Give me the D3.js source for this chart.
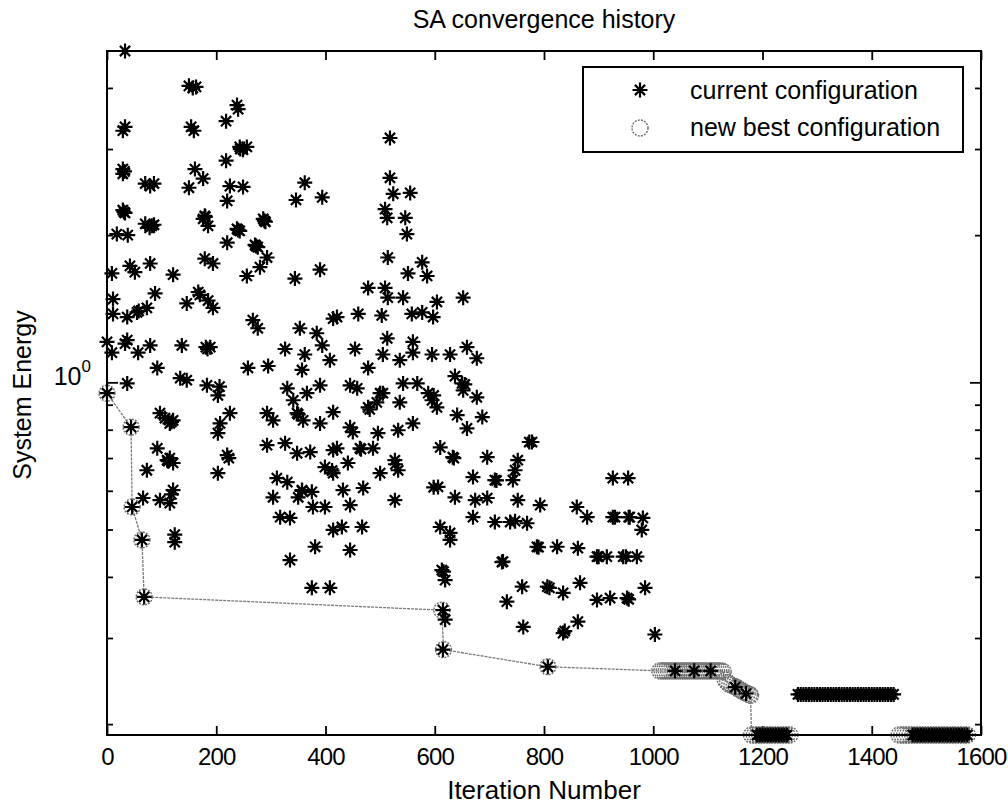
<!DOCTYPE html>
<html>
<head>
<meta charset="utf-8">
<script src="https://cdn.jsdelivr.net/npm/d3@7"></script>
<style>
  body { margin: 0; background: #fff; }
  text { font-family: "Liberation Sans", Arial, Helvetica, sans-serif; }
</style>
</head>
<body>
<div id="chart"></div>
<script>

// current configuration: [iteration, energy]
const currentPoints = [
    [33, 4.76], [150, 4.04], [157, 4.00], [163, 4.02], [238, 3.69], [240, 3.62], [218, 3.42], [33, 3.33], [29, 3.27],
    [154, 3.33], [159, 3.27], [243, 3.03], [256, 3.03], [249, 2.99], [218, 2.84], [29, 2.73], [32, 2.70], [29, 2.67],
    [161, 2.73], [176, 2.61], [70, 2.55], [86, 2.55], [79, 2.52], [225, 2.52], [249, 2.51], [220, 2.35], [362, 2.56],
    [346, 2.36], [394, 2.39], [29, 2.25], [33, 2.22], [176, 2.16], [179, 2.19], [185, 2.09], [286, 2.16], [290, 2.13],
    [70, 2.11], [86, 2.10], [78, 2.07], [238, 2.06], [243, 2.04], [18, 2.01], [38, 2.00], [220, 1.93], [271, 1.91],
    [276, 1.89], [179, 1.79], [194, 1.75], [42, 1.73], [79, 1.75], [293, 1.80], [280, 1.72], [390, 1.70],
    [9, 1.67], [51, 1.68], [121, 1.66], [256, 1.65], [344, 1.63], [11, 1.48], [88, 1.52], [167, 1.53], [185, 1.47],
    [194, 1.42], [146, 1.45], [11, 1.38], [55, 1.39], [73, 1.42], [37, 1.36], [267, 1.34], [276, 1.29], [353, 1.29],
    [384, 1.26], [414, 1.35], [0, 1.21], [37, 1.22], [79, 1.19], [9, 1.15], [57, 1.15], [137, 1.19], [181, 1.18],
    [189, 1.18], [326, 1.17], [362, 1.14], [394, 1.19], [408, 1.11], [357, 1.06], [258, 1.07], [295, 1.08], [92, 1.07],
    [134, 1.02], [146, 1.01], [183, 0.986], [203, 0.94], [37, 0.995], [330, 0.972], [341, 0.919], [366, 0.95], [390, 0.986],
    [97, 0.865], [106, 0.845], [115, 0.824], [121, 0.836], [207, 0.824], [225, 0.865], [203, 0.787], [293, 0.865],
    [304, 0.836], [348, 0.865], [359, 0.836], [390, 0.824], [414, 0.869], [92, 0.733], [110, 0.693], [121, 0.684],
    [115, 0.70], [73, 0.661], [220, 0.71], [203, 0.652], [293, 0.744], [326, 0.751], [348, 0.716], [372, 0.72],
    [414, 0.727], [399, 0.671], [414, 0.652], [311, 0.637], [330, 0.625], [357, 0.602], [375, 0.597], [304, 0.582],
    [350, 0.582], [377, 0.556], [399, 0.556], [121, 0.602], [115, 0.566], [97, 0.574], [66, 0.58], [317, 0.53],
    [335, 0.528], [414, 0.499], [124, 0.488],
    [0, 0.95], [44, 0.81], [46, 0.556], [64, 0.476], [68, 0.364],
    [124, 0.471], [335, 0.433], [381, 0.461], [375, 0.38], [408, 0.38],
    [518, 3.16], [518, 2.62], [524, 2.43], [555, 2.44], [509, 2.26], [513, 2.17], [546, 2.17], [549, 2.01], [514, 1.80],
    [577, 1.76],
    [551, 1.67], [586, 1.65], [478, 1.56], [509, 1.56], [514, 1.49], [542, 1.49], [604, 1.46], [652, 1.49], [421, 1.36],
    [460, 1.38], [503, 1.37], [558, 1.38], [577, 1.39], [597, 1.36], [513, 1.23], [454, 1.17], [505, 1.14], [478, 1.07],
    [536, 1.11], [560, 1.21], [560, 1.15], [595, 1.14], [628, 1.14], [659, 1.18], [677, 1.12], [445, 0.986], [458, 0.972],
    [500, 0.95], [494, 0.91], [478, 0.889], [536, 0.91], [542, 0.995], [568, 0.995], [588, 0.95], [595, 0.919],
    [604, 0.889], [637, 1.03], [650, 0.995], [652, 0.963], [677, 0.932], [641, 0.857], [687, 0.849], [659, 0.805],
    [445, 0.809], [450, 0.791], [496, 0.787], [533, 0.798], [560, 0.824], [421, 0.733], [463, 0.733], [487, 0.733],
    [527, 0.693], [533, 0.661], [441, 0.684], [500, 0.652], [432, 0.602], [469, 0.608], [445, 0.561], [527, 0.574],
    [430, 0.506], [467, 0.506], [610, 0.736], [633, 0.703], [696, 0.703], [752, 0.693], [773, 0.755], [778, 0.755],
    [670, 0.64], [710, 0.631], [743, 0.631], [747, 0.661], [606, 0.611], [637, 0.582], [674, 0.574], [696, 0.58],
    [752, 0.574], [793, 0.561], [670, 0.53], [710, 0.518], [738, 0.518], [769, 0.515], [610, 0.506], [628, 0.492],
    [860, 0.556], [879, 0.53], [926, 0.53], [957, 0.53], [981, 0.528], [979, 0.499], [926, 0.637], [954, 0.637],
    [445, 0.454], [628, 0.476], [613, 0.413], [619, 0.394], [615, 0.342], [619, 0.327], [615, 0.284], [723, 0.429],
    [787, 0.461], [824, 0.461], [862, 0.458], [897, 0.44], [915, 0.44], [945, 0.44], [970, 0.44], [760, 0.382],
    [732, 0.356], [806, 0.382], [835, 0.371], [866, 0.389], [762, 0.316], [835, 0.307], [862, 0.324], [897, 0.359],
    [921, 0.362], [952, 0.362], [985, 0.38], [1003, 0.305], [807, 0.262],
    [1040, 0.257], [1075, 0.257], [1105, 0.257], [1150, 0.238], [1170, 0.231],
    // second hits that make the bold clusters
    [244, 3.00], [150, 2.50], [31, 2.23], [180, 2.18], [288, 2.14], [82, 2.09], [240, 2.05], [273, 1.90],
    [170, 1.51], [58, 1.40], [33, 1.20], [184, 1.17], [118, 0.83], [206, 0.98], [112, 0.69], [223, 0.70],
    [118, 0.59], [350, 0.86], [412, 0.66], [357, 0.60], [481, 0.88], [505, 0.95], [598, 0.94], [655, 0.99],
    [465, 0.73], [528, 0.68], [635, 0.70], [713, 0.63], [747, 0.52], [930, 0.53], [955, 0.53], [598, 0.61],
    [616, 0.41], [790, 0.46], [900, 0.44], [950, 0.44], [725, 0.43], [810, 0.38], [955, 0.36], [838, 0.31]
];

// long runs of current configuration at the end of the cooling
const runLowA = [
    [1190, 0.19], [1195, 0.19], [1200, 0.19], [1205, 0.19], [1210, 0.19], [1215, 0.19],
    [1220, 0.19], [1225, 0.19], [1230, 0.19], [1235, 0.19], [1240, 0.19], [1245, 0.19]
];
const runMid = [
    [1265, 0.23], [1270, 0.23], [1275, 0.23], [1280, 0.23], [1285, 0.23], [1290, 0.23], [1295, 0.23], [1300, 0.23],
    [1305, 0.23], [1310, 0.23], [1315, 0.23], [1320, 0.23], [1325, 0.23], [1330, 0.23], [1335, 0.23], [1340, 0.23],
    [1345, 0.23], [1350, 0.23], [1355, 0.23], [1360, 0.23], [1365, 0.23], [1370, 0.23], [1375, 0.23], [1380, 0.23],
    [1385, 0.23], [1390, 0.23], [1395, 0.23], [1400, 0.23], [1405, 0.23], [1410, 0.23], [1415, 0.23], [1420, 0.23],
    [1425, 0.23], [1430, 0.23], [1435, 0.23], [1440, 0.23]
];
const runLowB = [
    [1475, 0.19], [1480, 0.19], [1485, 0.19], [1490, 0.19], [1495, 0.19], [1500, 0.19], [1505, 0.19],
    [1510, 0.19], [1515, 0.19], [1520, 0.19], [1525, 0.19], [1530, 0.19], [1535, 0.19], [1540, 0.19],
    [1545, 0.19], [1550, 0.19], [1555, 0.19], [1560, 0.19], [1565, 0.19], [1570, 0.19], [1575, 0.19]
];

// new best configuration: [iteration, energy]
const bestPoints = [
    [0, 0.95], [44, 0.81], [46, 0.556], [64, 0.476], [68, 0.364], [613, 0.342], [616, 0.284], [807, 0.262],
    [1012, 0.257], [1016, 0.257], [1020, 0.257], [1024, 0.257], [1028, 0.257], [1032, 0.257], [1036, 0.257],
    [1040, 0.257], [1044, 0.257], [1048, 0.257], [1052, 0.257], [1056, 0.257], [1060, 0.257], [1064, 0.257],
    [1068, 0.257], [1072, 0.257], [1076, 0.257], [1080, 0.257], [1084, 0.257], [1088, 0.257], [1092, 0.257],
    [1096, 0.257], [1100, 0.257], [1104, 0.257], [1108, 0.257], [1112, 0.257], [1116, 0.257], [1120, 0.257],
    [1124, 0.257], [1128, 0.256], [1132, 0.246], [1136, 0.243], [1140, 0.241], [1144, 0.240], [1148, 0.239],
    [1152, 0.238], [1156, 0.236], [1160, 0.235], [1164, 0.233], [1168, 0.232], [1172, 0.231], [1176, 0.230],
    [1178, 0.229],
    [1180, 0.19], [1185, 0.19], [1190, 0.19], [1195, 0.19], [1200, 0.19], [1205, 0.19], [1210, 0.19], [1215, 0.19],
    [1220, 0.19], [1225, 0.19], [1230, 0.19], [1235, 0.19], [1240, 0.19], [1245, 0.19], [1250, 0.19],
    [1450, 0.19], [1455, 0.19], [1460, 0.19], [1465, 0.19], [1470, 0.19], [1475, 0.19], [1480, 0.19], [1485, 0.19],
    [1490, 0.19], [1495, 0.19], [1500, 0.19], [1505, 0.19], [1510, 0.19], [1515, 0.19], [1520, 0.19], [1525, 0.19],
    [1530, 0.19], [1535, 0.19], [1540, 0.19], [1545, 0.19], [1550, 0.19], [1555, 0.19], [1560, 0.19], [1565, 0.19],
    [1570, 0.19], [1575, 0.19]
];

const xTicks = [0, 200, 400, 600, 800, 1000, 1200, 1400, 1600];
const yMinorTicks = [0.2, 0.3, 0.4, 0.5, 0.6, 0.7, 0.8, 0.9, 2, 3, 4];
const yMajorTicks = [1];
const legendLabels = ["current configuration", "new best configuration"];

const width = 1008;
const height = 805;
const plot = { left: 107, right: 981, top: 51, bottom: 735 };
const fontSize = 25;

const svg = d3.select("#chart")
    .append("svg")
    .attr("width", width)
    .attr("height", height)
    .style("background-color", "white");

const xScale = d3.scaleLinear()
    .domain([0, 1600])
    .range([plot.left, plot.right]);

const yScale = d3.scaleLog()
    .domain([0.19, 4.76])
    .range([plot.bottom, plot.top]);

// matlab style '*' marker: plus + cross
const starPath = (s) => {
    const p = d3.path();
    const d = s * 0.68;
    p.moveTo(-s, 0); p.lineTo(s, 0);
    p.moveTo(0, -s); p.lineTo(0, s);
    p.moveTo(-d, -d); p.lineTo(d, d);
    p.moveTo(-d, d); p.lineTo(d, -d);
    return p.toString();
};
const starD = starPath(7.5);

// ticks, all pointing inwards
const styleAxis = g => {
    g.select(".domain").remove();
    g.selectAll("line").attr("stroke", "black").attr("stroke-width", 1.8);
    g.selectAll("text")
        .attr("fill", "black")
        .style("font-size", "24px")
        .style("letter-spacing", "-0.8px");
};

svg.append("g")
    .attr("transform", `translate(0, ${plot.bottom})`)
    .call(d3.axisBottom(xScale).tickValues(xTicks).tickFormat(d3.format("d"))
        .tickSizeInner(-9).tickSizeOuter(0).tickPadding(13))
    .call(styleAxis);

svg.append("g")
    .attr("transform", `translate(0, ${plot.top})`)
    .call(d3.axisTop(xScale).tickValues(xTicks).tickSizeInner(-9).tickSizeOuter(0).tickFormat(""))
    .call(styleAxis);

svg.append("g")
    .attr("transform", `translate(${plot.left}, 0)`)
    .call(d3.axisLeft(yScale).tickValues(yMinorTicks).tickSizeInner(-6).tickSizeOuter(0).tickFormat(""))
    .call(styleAxis);
svg.append("g")
    .attr("transform", `translate(${plot.left}, 0)`)
    .call(d3.axisLeft(yScale).tickValues(yMajorTicks).tickSizeInner(-11).tickSizeOuter(0).tickFormat(""))
    .call(styleAxis);
svg.append("g")
    .attr("transform", `translate(${plot.right}, 0)`)
    .call(d3.axisRight(yScale).tickValues(yMinorTicks).tickSizeInner(-6).tickSizeOuter(0).tickFormat(""))
    .call(styleAxis);
svg.append("g")
    .attr("transform", `translate(${plot.right}, 0)`)
    .call(d3.axisRight(yScale).tickValues(yMajorTicks).tickSizeInner(-11).tickSizeOuter(0).tickFormat(""))
    .call(styleAxis);

// 10^0 label
yMajorTicks.forEach(v => {
    const t = svg.append("text")
        .attr("x", plot.left - 16)
        .attr("y", yScale(v) + 3)
        .attr("text-anchor", "end")
        .style("font-size", fontSize + "px")
        .text("10");
    t.append("tspan")
        .attr("dy", -13)
        .style("font-size", "17px")
        .text(Math.round(Math.log10(v)));
});

// best configuration line + circles
const line = d3.line()
    .x(d => xScale(d[0]))
    .y(d => yScale(d[1]));

svg.append("path")
    .datum(bestPoints)
    .attr("d", line)
    .attr("fill", "none")
    .attr("stroke", "#7a7a7a")
    .attr("stroke-width", 1.3)
    .attr("stroke-dasharray", "3 1");

svg.selectAll(".best")
    .data(bestPoints)
    .enter()
    .append("circle")
    .attr("class", "best")
    .attr("cx", d => xScale(d[0]))
    .attr("cy", d => yScale(d[1]))
    .attr("r", 8)
    .attr("fill", "none")
    .attr("stroke", "#6f6f6f")
    .attr("stroke-width", 1.4)
    .attr("stroke-dasharray", "2 1.2");

// current configuration stars
const allCurrent = currentPoints.concat(runLowA, runMid, runLowB);
svg.selectAll(".cur")
    .data(allCurrent)
    .enter()
    .append("path")
    .attr("class", "cur")
    .attr("d", starD)
    .attr("transform", d => `translate(${xScale(d[0])}, ${yScale(d[1])})`)
    .attr("fill", "none")
    .attr("stroke", "black")
    .attr("stroke-width", 2.2);

// frame
svg.append("rect")
    .attr("x", plot.left)
    .attr("y", plot.top)
    .attr("width", plot.right - plot.left)
    .attr("height", plot.bottom - plot.top)
    .attr("fill", "none")
    .attr("stroke", "black")
    .attr("stroke-width", 2);

// title and labels
svg.append("text")
    .attr("x", (plot.left + plot.right) / 2)
    .attr("y", 28)
    .attr("text-anchor", "middle")
    .style("font-size", fontSize + "px")
    .text("SA convergence history");

svg.append("text")
    .attr("x", (plot.left + plot.right) / 2)
    .attr("y", 799)
    .attr("text-anchor", "middle")
    .style("font-size", (fontSize + 1) + "px")
    .text("Iteration Number");

svg.append("text")
    .attr("transform", `translate(31, ${(plot.top + plot.bottom) / 2 + 2}) rotate(-90)`)
    .attr("text-anchor", "middle")
    .style("font-size", fontSize + "px")
    .text("System Energy");

// legend
const legend = svg.append("g");
legend.append("rect")
    .attr("x", 583)
    .attr("y", 67)
    .attr("width", 380)
    .attr("height", 85)
    .attr("fill", "white")
    .attr("stroke", "black")
    .attr("stroke-width", 2);

legend.append("path")
    .attr("d", starD)
    .attr("transform", "translate(640, 90)")
    .attr("fill", "none")
    .attr("stroke", "black")
    .attr("stroke-width", 2.2);

legend.append("circle")
    .attr("cx", 640)
    .attr("cy", 128)
    .attr("r", 8)
    .attr("fill", "none")
    .attr("stroke", "#6f6f6f")
    .attr("stroke-width", 1.4)
    .attr("stroke-dasharray", "2 1.2");

legend.selectAll(".legend-text")
    .data(legendLabels)
    .enter()
    .append("text")
    .attr("class", "legend-text")
    .attr("x", 690)
    .attr("y", (d, i) => 99 + i * 37)
    .style("font-size", fontSize + "px")
    .text(d => d);

</script>
</body>
</html>
